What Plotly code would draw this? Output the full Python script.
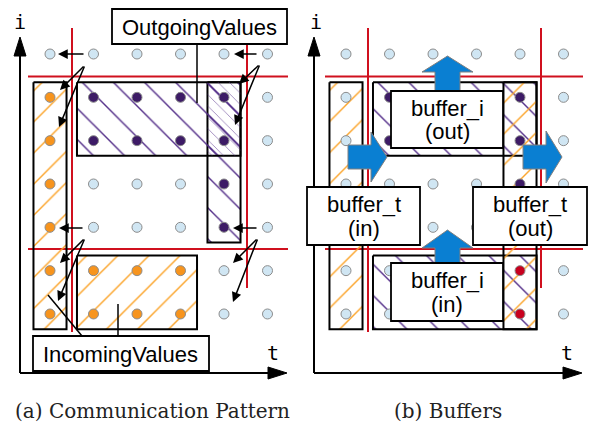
import plotly.graph_objects as go

# ---------------- data ----------------
T_VALUES = [0, 1, 2, 3, 4, 5]
I_VALUES = [6, 5, 4, 3, 2, 1, 0]          # rows from top to bottom
# b = idle value, o = incoming value, p = outgoing value, r = received boundary value
STATE_A = ["bbbbbb", "oppppb", "oppppb", "obbbpb", "obbbpb", "oooobb", "oooobb"]
STATE_B = ["bbbbbb", "bppppb", "bppppb", "bbbbpb", "bbbbpb", "bbbbrb", "bbbbrb"]
STATE_COLORS = {"b": "#d0e6f3", "o": "#f7941d", "p": "#3d1b66", "r": "#c8001e"}

LABEL_OUT = "OutgoingValues"
LABEL_IN = "IncomingValues"
BUFFER_LABELS = [("buffer_i", "(out)"), ("buffer_t", "(in)"), ("buffer_t", "(out)"), ("buffer_i", "(in)")]
CAPTIONS = ["(a) Communication Pattern", "(b) Buffers"]

# ---------------- geometry helpers (decorations) ----------------
W, H = 591, 425
SX, SY = 43.5, 43.33
OX = {"x": 50.0, "x2": 346.0}


def ux(px, ref):
    return (px - OX[ref]) / SX


def uy(py):
    return 6 - (py - 54.0) / SY


ORANGE = "#fba42a"
PURPLE = "#55308a"
RED = "#d0101e"
BLUE = "#0a7fd2"

fig = go.Figure()


def pattern(shape, color, size=22):
    return dict(shape=shape, fgcolor=color, bgcolor="rgba(0,0,0,0)", size=size,
                solidity=0.065, fillmode="replace")


def add_box(ref, t0, t1, i0, i1, shape, color, size=22, padx=0.38, pady=0.35, line=True):
    xs = [t0 - padx, t1 + padx, t1 + padx, t0 - padx, t0 - padx]
    ys = [i1 + pady, i1 + pady, i0 - pady, i0 - pady, i1 + pady]
    fig.add_trace(go.Scatter(
        x=xs, y=ys, xaxis=ref, yaxis="y", mode="lines", fill="toself",
        fillcolor="rgba(0,0,0,0)", fillpattern=pattern(shape, color, size),
        line=dict(color="black" if line else "rgba(0,0,0,0)", width=2),
        hoverinfo="skip", showlegend=False))


shapes = []
annotations = []


def add_line(ref, x0, y0, x1, y1, color="black", width=1.5, layer="above"):
    shapes.append(dict(type="line", xref=ref, yref="y", x0=ux(x0, ref), y0=uy(y0),
                       x1=ux(x1, ref), y1=uy(y1), line=dict(color=color, width=width),
                       layer=layer))


def add_tri(ref, pts):
    path = "M " + " L ".join(f"{ux(px, ref)},{uy(py)}" for px, py in pts) + " Z"
    shapes.append(dict(type="path", xref=ref, yref="y", path=path, fillcolor="black",
                       line=dict(color="black", width=1), layer="above"))


def add_rect(ref, x0, y0, x1, y1):
    shapes.append(dict(type="rect", xref=ref, yref="y", x0=ux(x0, ref), y0=uy(y0),
                       x1=ux(x1, ref), y1=uy(y1), fillcolor="white",
                       line=dict(color="black", width=1.8), layer="above"))


def add_text(ref, px, py, text, size=22, family="Liberation Sans, Arial, sans-serif"):
    annotations.append(dict(x=ux(px, ref), y=uy(py), xref=ref, yref="y", text=text,
                            showarrow=False, font=dict(size=size, family=family, color="black"),
                            xanchor="center", yanchor="middle"))


def add_arrow(ref, tx, ty, hx, hy):
    annotations.append(dict(x=ux(hx, ref), y=uy(hy), ax=ux(tx, ref), ay=uy(ty), xref=ref, yref="y",
                            axref=ref, ayref="y", text="", showarrow=True, arrowhead=2,
                            arrowsize=1.3, arrowwidth=1.5, arrowcolor="black", standoff=0))


# ---------------- panel (a) ----------------
add_box("x", 0, 0, 0, 5, "/", ORANGE)
add_box("x", 1, 3, 0, 1, "/", ORANGE)
add_box("x", 4, 4, 2, 5, "\\", PURPLE)
add_box("x", 1, 4, 4, 5, "\\", PURPLE)
add_box("x", 4, 4, 4, 5, "\\", PURPLE, size=8, line=False)

# ---------------- panel (b) ----------------
add_box("x2", 0, 0, 0, 5, "/", ORANGE)
add_box("x2", 1, 4, 4, 5, "\\", PURPLE)
add_box("x2", 1, 4, 0, 1, "\\", PURPLE)
add_box("x2", 4, 4, 0, 5, "/", ORANGE)

# ---------------- dots ----------------
for ref, states in (("x", STATE_A), ("x2", STATE_B)):
    xs, ys, cs = [], [], []
    for row, i in zip(states, I_VALUES):
        for ch, t in zip(row, T_VALUES):
            xs.append(t)
            ys.append(i)
            cs.append(STATE_COLORS[ch])
    fig.add_trace(go.Scatter(x=xs, y=ys, xaxis=ref, yaxis="y", mode="markers",
                             marker=dict(size=10, color=cs, line=dict(color="#8c8c8c", width=1)),
                             hoverinfo="skip", showlegend=False))

# ---------------- blue arrows (panel b) ----------------
blue_polys = [
    [(435, 95), (435, 72), (422, 72), (447.5, 56), (473, 72), (460, 72), (460, 95)],
    [(435, 268), (435, 248), (422, 248), (447.5, 230), (473, 248), (460, 248), (460, 268)],
    [(348, 145), (371, 145), (371, 132), (387, 157), (371, 182), (371, 169), (348, 169)],
    [(523, 145), (546, 145), (546, 131), (562, 157), (546, 183), (546, 169), (523, 169)],
]
for poly in blue_polys:
    pts = poly + [poly[0]]
    fig.add_trace(go.Scatter(x=[ux(p[0], "x2") for p in pts], y=[uy(p[1]) for p in pts],
                             xaxis="x2", yaxis="y", mode="lines", fill="toself", fillcolor=BLUE,
                             line=dict(color="#808080", width=1), hoverinfo="skip", showlegend=False))

# ---------------- red partition lines ----------------
for ref, xl, xr, x_start, x_end in (("x", 72, 247, 28, 288), ("x2", 368, 541, 325, 583)):
    add_line(ref, xl, 28, xl, 332, RED, 2, "below")
    add_line(ref, xr, 28, xr, 288, RED, 2, "below")
    add_line(ref, x_start, 76.5, x_end, 76.5, RED, 2, "below")
    add_line(ref, x_start, 249, x_end, 249, RED, 2, "below")

# ---------------- axes ----------------
for ref, ax_x, tip_x in (("x", 20, 287), ("x2", 314, 582)):
    add_line(ref, ax_x, 373, ax_x, 50, "black", 2)
    add_line(ref, ax_x, 373, tip_x - 15, 373, "black", 2)
    add_tri(ref, [(ax_x, 37), (ax_x - 6, 56), (ax_x + 6, 56)])
    add_tri(ref, [(tip_x, 373), (tip_x - 19, 367), (tip_x - 19, 379)])

add_text("x", 20, 22, "i", 20, "DejaVu Sans Mono, monospace")
add_text("x", 273, 353, "t", 20, "DejaVu Sans Mono, monospace")
add_text("x2", 316, 22, "i", 20, "DejaVu Sans Mono, monospace")
add_text("x2", 567, 353, "t", 20, "DejaVu Sans Mono, monospace")

# ---------------- labels panel (a) ----------------
add_line("x", 197, 44, 197, 103)
add_line("x", 118, 304, 118, 336)
add_line("x", 48, 295, 82, 336)
add_rect("x", 112, 9, 287, 44)
add_rect("x", 33, 336, 209, 371)
add_text("x", 199.5, 27, LABEL_OUT)
add_text("x", 120, 354, LABEL_IN)

# black communication arrows
for tx, ty, hx, hy in [
    (85, 54, 58, 54), (258, 54, 234, 54),
    (85, 65, 60, 90), (85, 65, 59, 127),
    (260, 64, 239, 84), (260, 64, 235, 125),
    (84, 228, 59, 228), (258, 228, 233, 228),
    (85, 238, 60, 263), (85, 238, 58, 301),
    (258, 238, 233, 263), (258, 238, 233, 302),
]:
    add_arrow("x", tx, ty, hx, hy)

# ---------------- labels panel (b) ----------------
boxes_b = [(391, 91, 503, 148), (307, 187, 420, 245), (473, 187, 587, 245), (391, 263, 503, 321)]
for (x0, y0, x1, y1), (l1, l2) in zip(boxes_b, BUFFER_LABELS):
    add_rect("x2", x0, y0, x1, y1)
    cx = (x0 + x1) / 2
    cy = (y0 + y1) / 2
    add_text("x2", cx, cy - 11.5, l1)
    add_text("x2", cx, cy + 12, l2)

# captions
for cx, text in zip((152.5, 447.5), CAPTIONS):
    annotations.append(dict(x=cx / W, y=1 - 411 / H, xref="paper", yref="paper", text=text,
                            showarrow=False, xanchor="center", yanchor="middle",
                            font=dict(size=20, family="DejaVu Serif, serif", color="#222")))

fig.update_layout(
    width=W, height=H, autosize=False,
    margin=dict(l=0, r=0, t=0, b=0),
    paper_bgcolor="white", plot_bgcolor="white",
    xaxis=dict(domain=[0, 0.5], range=[ux(0, "x"), ux(W / 2, "x")], visible=False, fixedrange=True),
    xaxis2=dict(domain=[0.5, 1], range=[ux(W / 2, "x2"), ux(W, "x2")], visible=False,
                fixedrange=True, anchor="y"),
    yaxis=dict(domain=[0, 1], range=[uy(H), uy(0)], visible=False, fixedrange=True),
    shapes=shapes, annotations=annotations, showlegend=False,
)

fig.write_html("out.html", config={"displayModeBar": False},
               post_script="document.body.style.margin='0px';")
